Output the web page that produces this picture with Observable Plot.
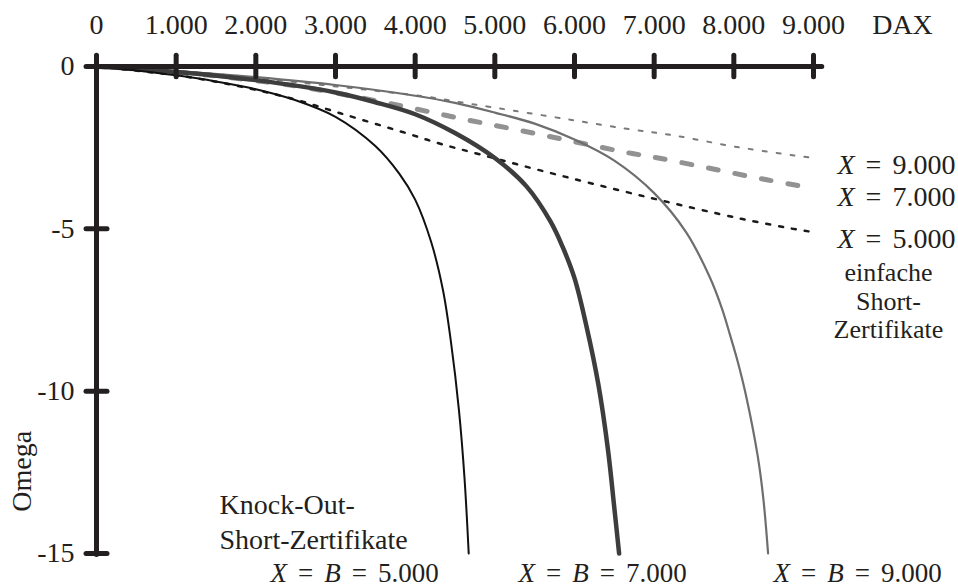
<!DOCTYPE html>
<html>
<head>
<meta charset="utf-8">
<script src="https://cdn.jsdelivr.net/npm/d3@7"></script>
<script src="https://cdn.jsdelivr.net/npm/@observablehq/plot@0.6"></script>
<style>
  html, body { margin: 0; padding: 0; background: #fff; }
  #chart { width: 958px; height: 588px; }
</style>
</head>
<body>
<div id="chart"></div>
<script>
// Tick values and labels
const xTicks = [0, 1000, 2000, 3000, 4000, 5000, 6000, 7000, 8000, 9000];
const xTickLabels = ["0", "1.000", "2.000", "3.000", "4.000", "5.000", "6.000", "7.000", "8.000", "9.000"];
const yTicks = [0, -5, -10, -15];
const yTickLabels = ["0", "-5", "-10", "-15"];

// Knock-Out-Short-Zertifikate (X = B): DAX level vs. Omega
const ko5000S = [0, 500, 1000, 1500, 2000, 2500, 3000, 3500, 3800, 4000, 4200, 4350, 4450, 4550, 4620, 4672];
const ko5000O = [0, -0.12, -0.27, -0.46, -0.7, -1.04, -1.55, -2.45, -3.3, -4.1, -5.4, -6.9, -8.5, -10.6, -12.7, -15];

const ko7000S = [0, 1000, 2000, 3000, 3500, 4000, 4500, 5000, 5400, 5700, 5850, 6000, 6150, 6300, 6420, 6500, 6560];
const ko7000O = [0, -0.17, -0.42, -0.8, -1.1, -1.47, -2.05, -2.82, -3.7, -4.78, -5.55, -6.52, -8.0, -9.8, -11.8, -13.6, -15];

const ko9000S = [0, 1000, 2000, 3000, 4000, 4500, 5000, 5500, 6000, 6500, 7000, 7400, 7700, 7850, 7950, 8050, 8150, 8300, 8370, 8430];
const ko9000O = [0, -0.14, -0.33, -0.57, -0.9, -1.12, -1.42, -1.76, -2.25, -2.9, -3.9, -5.1, -6.5, -7.45, -8.25, -9.1, -10.1, -12.0, -13.3, -15];

// einfache Short-Zertifikate (strike X)
const s5000S = [0, 1000, 1500, 2000, 2500, 3061, 3898, 4316, 4818, 5571, 6910, 8093, 8812, 9000];
const s5000O = [0, -0.27, -0.47, -0.72, -1.02, -1.44, -2.06, -2.38, -2.71, -3.2, -4.02, -4.69, -5.03, -5.1];

const s7000S = [0, 1000, 1807, 2500, 3187, 3898, 4588, 5278, 5989, 6679, 7035, 7725, 8415, 9000];
const s7000O = [0, -0.17, -0.38, -0.6, -0.9, -1.25, -1.61, -1.95, -2.31, -2.66, -2.81, -3.15, -3.49, -3.75];

const s9000S = [0, 1000, 1807, 2500, 3479, 4232, 4567, 4902, 5236, 5947, 6658, 7240, 8039, 9000];
const s9000O = [0, -0.14, -0.3, -0.48, -0.74, -0.96, -1.1, -1.23, -1.36, -1.64, -1.92, -2.12, -2.48, -2.82];

const koLabels = ["X = B = 5.000", "X = B = 7.000", "X = B = 9.000"];
const simpleLabels = ["X = 9.000", "X = 7.000", "X = 5.000"];
const xAxisTitle = "DAX";
const yAxisTitle = "Omega";
const simpleGroupLabel = "einfache\nShort-\nZertifikate";
const koGroupLabel = "Knock-Out-\nShort-Zertifikate";

const toRows = (S, O) => S.map((s, i) => ({s, o: O[i]}));

const ink = "#231f20";
const font = "'Liberation Serif', 'Times New Roman', serif";

const plot = Plot.plot({
  width: 958,
  height: 588,
  marginLeft: 96,
  marginRight: 145,
  marginTop: 66,
  marginBottom: 35,
  x: {domain: [0, 9000], axis: null},
  y: {domain: [-15, 0], axis: null},
  style: {fontFamily: font, fontSize: "28px", background: "#fff", color: ink, overflow: "visible"},
  marks: [
    // einfache Short-Zertifikate
    Plot.line(toRows(s9000S, s9000O), {x: "s", y: "o", stroke: "#7a7a7a", strokeWidth: 2, strokeDasharray: "4,10", curve: "catmull-rom"}),
    Plot.line(toRows(s7000S, s7000O), {x: "s", y: "o", stroke: "#929292", strokeWidth: 5, strokeDasharray: "10,17", curve: "catmull-rom"}),
    Plot.line(toRows(s5000S, s5000O), {x: "s", y: "o", stroke: "#1a1a1a", strokeWidth: 2.5, strokeDasharray: "4,9", curve: "catmull-rom"}),
    // Knock-Out-Short-Zertifikate
    Plot.line(toRows(ko9000S, ko9000O), {x: "s", y: "o", stroke: "#6e6e6e", strokeWidth: 2.2, curve: "catmull-rom"}),
    Plot.line(toRows(ko7000S, ko7000O), {x: "s", y: "o", stroke: "#3d3d3d", strokeWidth: 4.5, curve: "catmull-rom"}),
    Plot.line(toRows(ko5000S, ko5000O), {x: "s", y: "o", stroke: "#111", strokeWidth: 2, curve: "catmull-rom"}),
    // axes
    Plot.ruleY([0], {x1: -100, x2: 9110, stroke: ink, strokeWidth: 5, strokeLinecap: "round"}),
    Plot.ruleX([0], {y1: 0.3, y2: -15.05, stroke: ink, strokeWidth: 5, strokeLinecap: "round"}),
    Plot.ruleX(xTicks, {x: d => d, y1: 0.33, y2: -0.33, stroke: ink, strokeWidth: 5, strokeLinecap: "round"}),
    Plot.ruleY(yTicks, {y: d => d, x1: -125, x2: 138, stroke: ink, strokeWidth: 5, strokeLinecap: "round"}),
    // tick labels
    Plot.text(xTicks, {x: d => d, y: 0, dy: -41, text: (d, i) => xTickLabels[i], fill: ink}),
    Plot.text([xAxisTitle], {x: 10117, y: 0, dy: -41, text: d => d, fill: ink}),
    Plot.text(yTicks, {x: 0, y: d => d, dx: -22, textAnchor: "end", text: (d, i) => yTickLabels[i], fill: ink}),
    Plot.text([yAxisTitle], {x: -929, y: -12.47, rotate: -90, text: d => d, fill: ink}),
    // annotations
    Plot.text(simpleLabels, {x: 9301, y: (d, i) => [-3.05, -4.03, -5.3][i], textAnchor: "start", text: d => d, fill: ink}),
    Plot.text([simpleGroupLabel], {x: 9941, y: -7.21, fontSize: 26, lineHeight: 1.1, text: d => d, fill: ink}),
    Plot.text([koGroupLabel], {x: 1544, y: -13.97, textAnchor: "start", lineHeight: 1.28, text: d => d, fill: ink}),
    Plot.text(koLabels, {x: (d, i) => [2184, 5297, 8498][i], y: -15.6, fontSize: 27, textAnchor: "start", text: d => d, fill: ink})
  ]
});

// Italic variables X and B, with the wider spacing of the original
d3.select(plot).selectAll("text").each(function () {
  const t = this.textContent;
  if (/^X = /.test(t) && this.querySelectorAll("tspan").length === 0) {
    const tokens = t.split(" ");
    const sel = d3.select(this);
    sel.text(null);
    tokens.forEach((tok, i) => {
      const ts = sel.append("tspan").text(tok);
      if (i > 0) ts.attr("dx", 11);
      if (tok === "X" || tok === "B") ts.attr("font-style", "italic");
    });
  }
});

document.getElementById("chart").appendChild(plot);
</script>
</body>
</html>
